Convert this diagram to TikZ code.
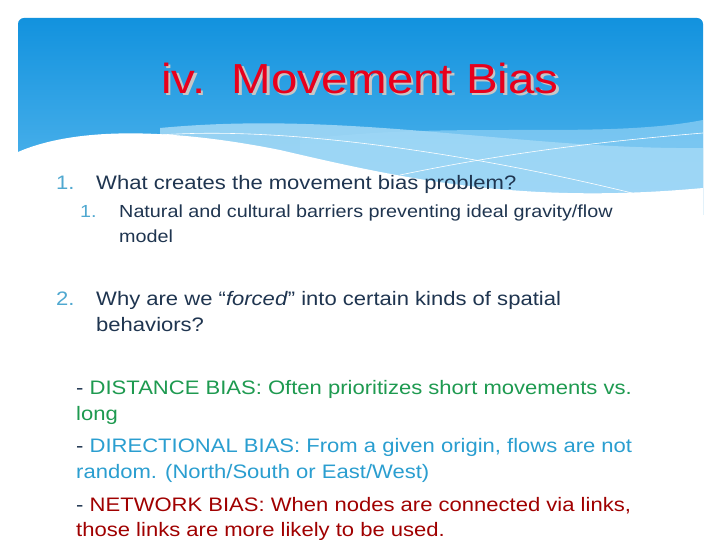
\documentclass[tikz,border=0pt]{standalone}
\usepackage{fontspec}
\setmainfont{Liberation Sans}
\definecolor{navy}{HTML}{1F3550}
\definecolor{numb}{HTML}{4FA8D0}
\definecolor{grn}{HTML}{1E9A50}
\definecolor{blu}{HTML}{2A9ED0}
\definecolor{dred}{HTML}{A00000}
\definecolor{ttl}{HTML}{E8001C}
\definecolor{btop}{HTML}{1292DE}
\definecolor{bbot}{HTML}{6CC3F2}
\begin{document}
\begin{tikzpicture}[x=1pt,y=-1pt,
  base/.style={anchor=base west,inner sep=0pt,xscale=1.13},
  txt/.style={base,text=navy,font=\fontsize{19.5}{24}\selectfont},
  sub/.style={base,text=navy,font=\fontsize{17.5}{20}\selectfont},
  num/.style={base,text=numb},
  bias/.style={base,font=\fontsize{19.5}{24}\selectfont}]
\useasboundingbox (0,0) rectangle (720,540);
\fill[white] (0,0) rectangle (720,540);
\begin{scope}
\clip[rounded corners=6] (18,18) rectangle (703,260);
\shade[top color=btop,bottom color=bbot] (18,18) rectangle (703,260);
\fill[white!55!bbot,opacity=.7] (160,128) .. controls (350,110) and (520,150) .. (703,148) -- (703,260) -- (160,260) -- cycle;
\fill[white!35!bbot,opacity=.6] (300,140) .. controls (450,120) and (600,140) .. (703,120) -- (703,260) -- (300,260) -- cycle;
\fill[white] (18,152) .. controls (80,125) and (180,130) .. (280,150) .. controls (400,178) and (520,205) .. (703,188) -- (703,260) -- (18,260) -- cycle;
\draw[white,line width=.6] (160,135) .. controls (300,125) and (500,160) .. (640,195);
\draw[white,line width=.6] (400,175) .. controls (520,150) and (620,140) .. (703,133);
\end{scope}
\fill[white] (0,215) rectangle (720,262);
\node[text=gray!45,font=\fontsize{42}{48}\selectfont,xscale=1.13] (tsh) at (362.5,80.5) {iv.\ \ Movement Bias};
\node[text=ttl,font=\fontsize{42}{48}\selectfont,xscale=1.13] (t) at (360,78) {iv.\ \ Movement Bias};
\node[num,font=\fontsize{19.5}{24}\selectfont] (n1) at (56,190) {1.};
\node[txt] (a1) at (96,190) {What creates the movement bias problem?};
\node[num,font=\fontsize{17.5}{20}\selectfont] (n11) at (80,218) {1.};
\node[sub] (a11) at (119,218) {Natural and cultural barriers preventing ideal gravity/flow};
\node[sub] (a12) at (119,242) {model};
\node[num,font=\fontsize{19.5}{24}\selectfont] (n2) at (56,305) {2.};
\node[txt] (b1) at (96,305) {Why are we “\textit{forced}” into certain kinds of spatial};
\node[txt] (b2) at (96,331) {behaviors?};
\node[bias] (c1) at (76,394) {\textcolor{navy}{-} \textcolor{grn}{DISTANCE BIAS: Often prioritizes short movements vs.}};
\node[bias,text=grn] (c2) at (76,420) {long};
\node[bias] (d1) at (76,452) {\textcolor{navy}{-} \textcolor{blu}{DIRECTIONAL BIAS: From a given origin, flows are not}};
\node[bias,text=blu] (d2) at (76,478) {random. (North/South or East/West)};
\node[bias] (e1) at (76,511) {\textcolor{navy}{-} \textcolor{dred}{NETWORK BIAS: When nodes are connected via links,}};
\node[bias,text=dred] (e2) at (76,536) {those links are more likely to be used.};
\end{tikzpicture}
\end{document}
